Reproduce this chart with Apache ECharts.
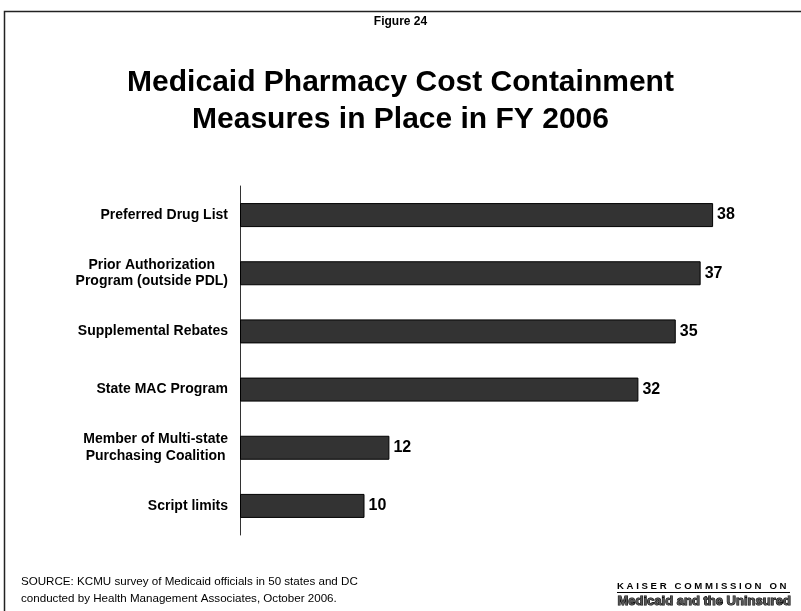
<!DOCTYPE html>
<html>
<head>
<meta charset="utf-8">
<script src="https://cdn.jsdelivr.net/npm/echarts@6/dist/echarts.min.js"></script>
<style>
  html, body { margin: 0; padding: 0; background: #fff; }
  #chart { width: 801px; height: 611px; }
</style>
</head>
<body>
<div id="chart"></div>
<script>
// Cost containment measures, number of states (incl. DC) using each one
const measures = [
  'Preferred Drug List',
  'Prior Authorization\nProgram (outside PDL)',
  'Supplemental Rebates',
  'State MAC Program',
  'Member of Multi-state\nPurchasing Coalition',
  'Script limits'
];
const stateCounts = [38, 37, 35, 32, 12, 10];

const figureLabel = 'Figure 24';
const titleText = 'Medicaid Pharmacy Cost Containment\nMeasures in Place in FY 2006';
const sourceText = 'SOURCE: KCMU survey of Medicaid officials in 50 states and DC\nconducted by Health Management Associates, October 2006.';
const orgLine1 = 'K A I S E R   C O M M I S S I O N   O N';
const orgLine2 = 'Medicaid and the Uninsured';

const font = 'Arial, "Liberation Sans", Helvetica, sans-serif';
const chart = echarts.init(document.getElementById('chart'), null, { renderer: 'canvas' });

chart.setOption({
  backgroundColor: '#fff',
  animation: false,
  title: [
    {
      text: figureLabel,
      left: 'center',
      top: 11,
      textStyle: { fontFamily: font, fontSize: 12, fontWeight: 'bold', color: '#000' }
    },
    {
      text: titleText,
      left: 'center',
      top: 59,
      textStyle: { fontFamily: font, fontSize: 30, fontWeight: 'bold', color: '#000', lineHeight: 37 }
    }
  ],
  grid: { left: 240, top: 186, width: 498, height: 349 },
  xAxis: {
    type: 'value',
    min: 0,
    max: 40,
    show: false
  },
  yAxis: {
    type: 'category',
    data: measures,
    inverse: true,
    axisLine: { show: true, lineStyle: { color: '#333', width: 1 } },
    axisTick: { show: false },
    splitLine: { show: false },
    axisLabel: {
      margin: 12,
      formatter: function (v) {
        return v.split('\n').map(function (s) { return '{c|' + s + '}'; }).join('\n');
      },
      rich: {
        c: {
          align: 'center',
          fontFamily: font,
          fontSize: 14,
          fontWeight: 'bold',
          color: '#000',
          lineHeight: 16.5
        }
      }
    }
  },
  series: [{
    type: 'bar',
    data: stateCounts,
    barWidth: 24,
    itemStyle: { color: '#333333', borderColor: '#000', borderWidth: 1 },
    label: {
      show: true,
      position: 'right',
      distance: 4,
      fontFamily: font,
      fontSize: 16,
      fontWeight: 'bold',
      color: '#000'
    }
  }],
  graphic: [
    {
      type: 'rect',
      silent: true,
      shape: { x: 4.5, y: 11.5, width: 900, height: 700 },
      style: { fill: 'none', stroke: '#222', lineWidth: 1.5 }
    },
    {
      type: 'text',
      left: 21,
      top: 573,
      style: {
        text: sourceText,
        fontFamily: font,
        fontSize: 11.6,
        lineHeight: 17,
        fill: '#000'
      }
    },
    {
      type: 'text',
      left: 617,
      top: 581,
      style: {
        text: orgLine1,
        fontFamily: font,
        fontSize: 9.6,
        fontWeight: 'bold',
        fill: '#000'
      }
    },
    {
      type: 'line',
      silent: true,
      shape: { x1: 617, y1: 592.5, x2: 790, y2: 592.5 },
      style: { stroke: '#000', lineWidth: 1 }
    },
    {
      type: 'text',
      left: 617,
      top: 594,
      style: {
        text: orgLine2,
        fontFamily: font,
        fontSize: 13,
        fontWeight: 'bold',
        fill: '#555',
        stroke: '#000',
        lineWidth: 1
      }
    }
  ]
});
</script>
</body>
</html>
